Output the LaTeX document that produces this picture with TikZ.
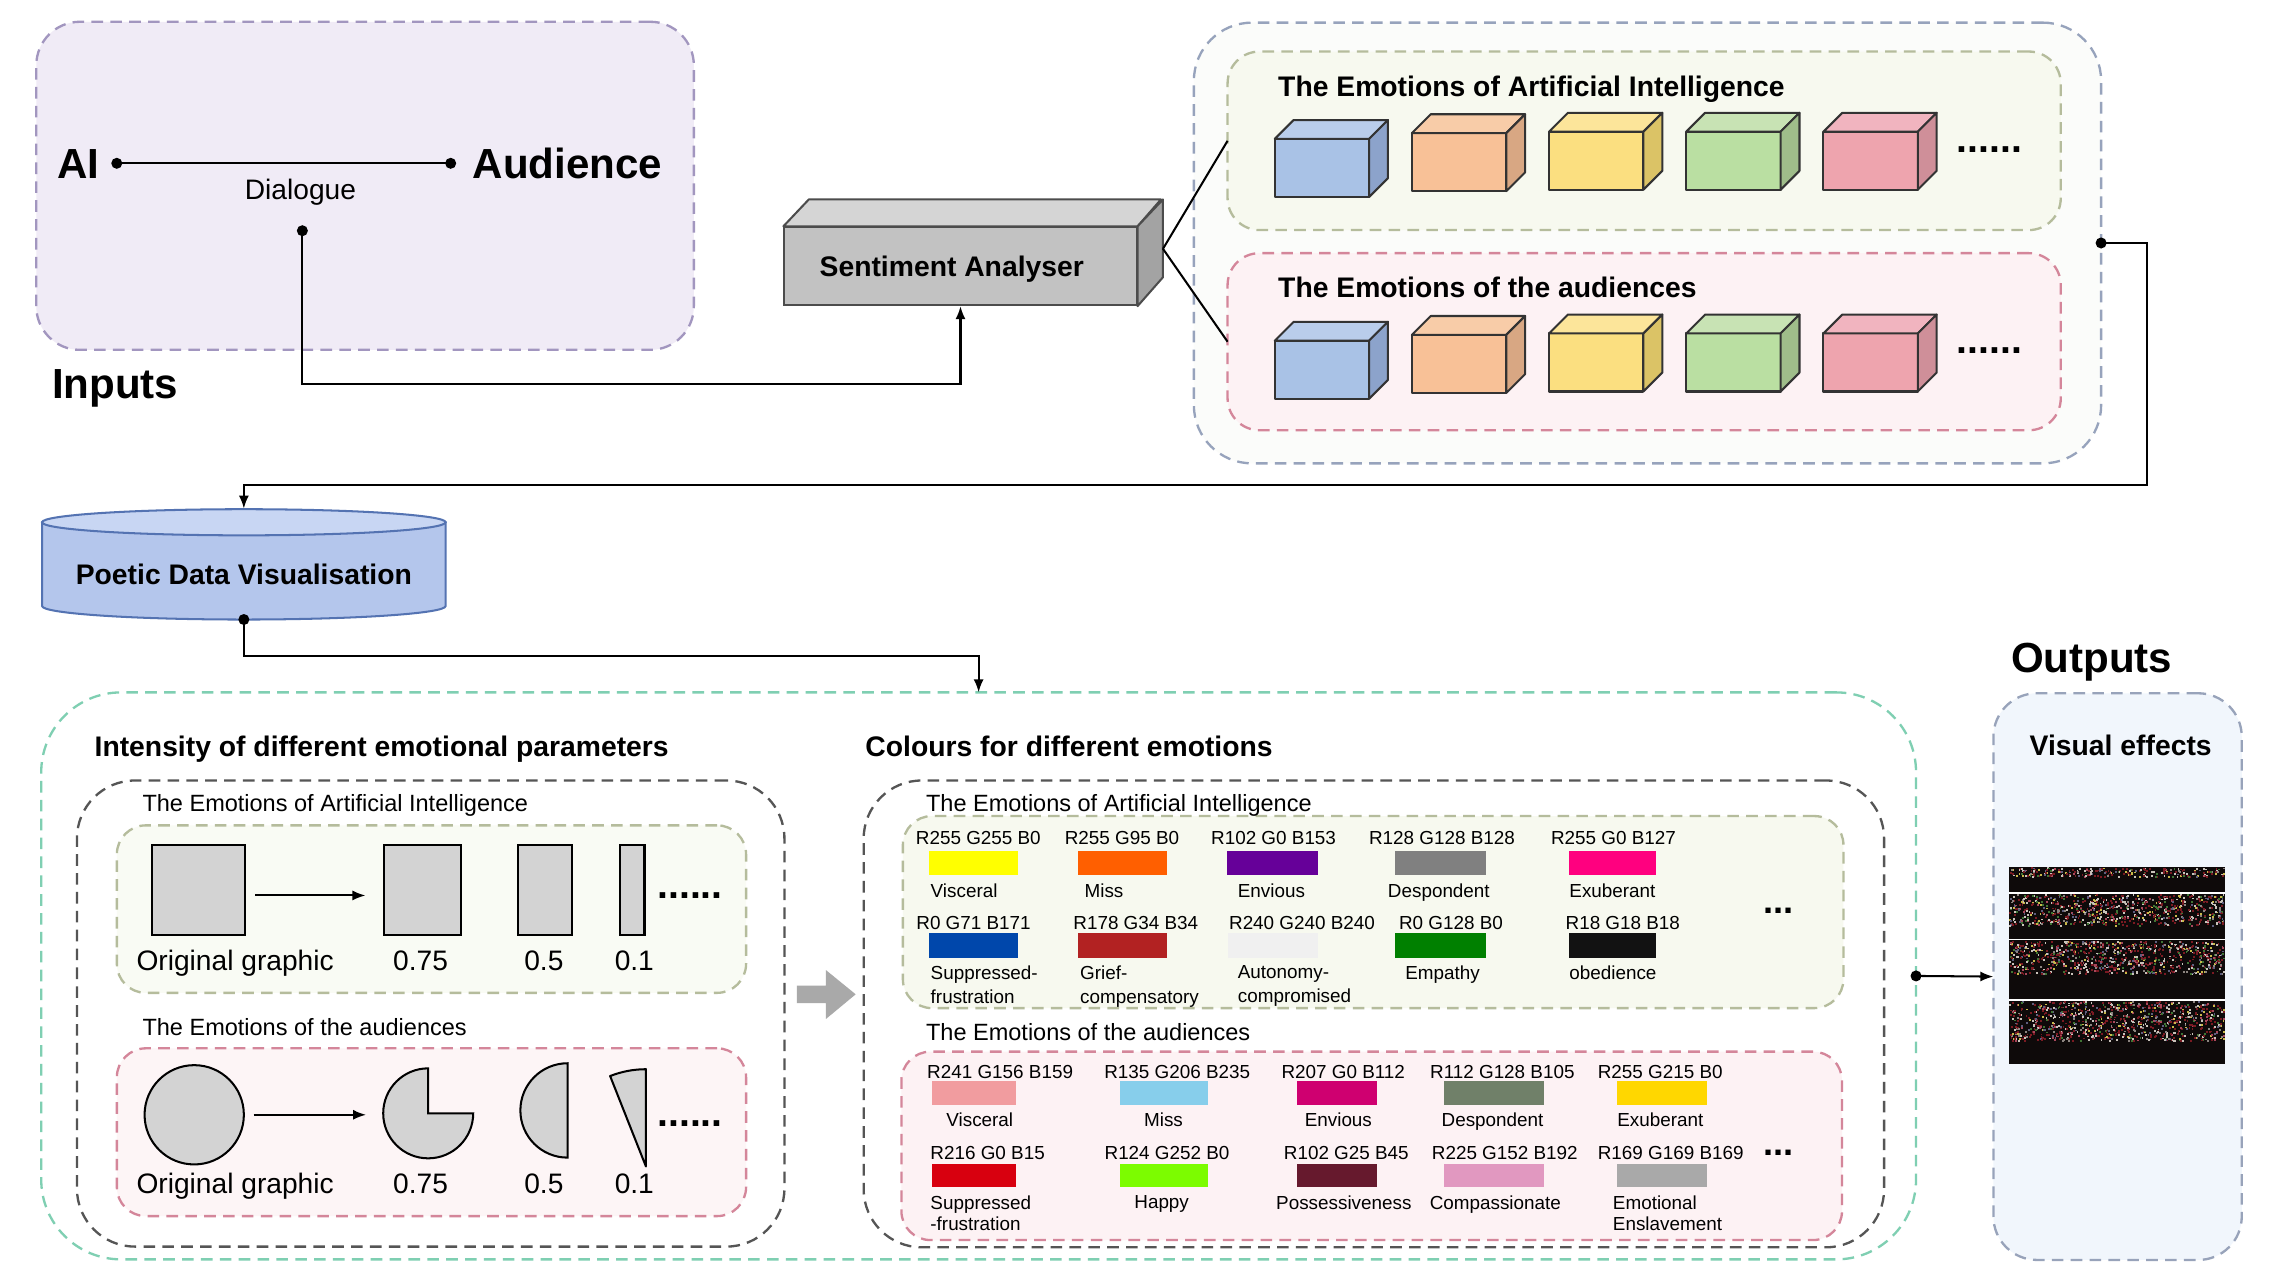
\documentclass[tikz,border=0pt]{standalone}
\usepackage{fontspec}
\setmainfont{Liberation Sans}
\usetikzlibrary{arrows.meta}
\definecolor{inbg}{HTML}{F0EBF6}
\definecolor{inln}{HTML}{A296BF}
\definecolor{emln}{HTML}{97A3BC}
\definecolor{embg}{HTML}{FBFCFA}
\definecolor{aibg}{HTML}{F7F9EF}
\definecolor{ailn}{HTML}{B5BC9C}
\definecolor{aubg}{HTML}{FDF2F4}
\definecolor{auln}{HTML}{D4869A}
\definecolor{grln}{HTML}{7FCFB2}
\definecolor{dkln}{HTML}{555555}
\definecolor{oubg}{HTML}{F1F6FC}
\definecolor{ouln}{HTML}{98A3BA}
\definecolor{cyfill}{HTML}{B4C6EC}
\definecolor{cytop}{HTML}{C8D6F3}
\definecolor{cyln}{HTML}{5473B2}
\definecolor{safr}{HTML}{C2C2C2}
\definecolor{satp}{HTML}{D5D5D5}
\definecolor{sasd}{HTML}{A3A3A3}
\definecolor{shp}{HTML}{D3D3D3}
\definecolor{arrg}{HTML}{A9A9A9}
\definecolor{blf}{HTML}{A9C2E6}\definecolor{blt}{HTML}{B9CDEB}\definecolor{bls}{HTML}{8CA3CB}
\definecolor{orf}{HTML}{F8C197}\definecolor{ort}{HTML}{F8CCA8}\definecolor{ors}{HTML}{D8A783}
\definecolor{yef}{HTML}{FBDF80}\definecolor{yet}{HTML}{FCE59A}\definecolor{yes}{HTML}{DBC366}
\definecolor{grf}{HTML}{BADFA2}\definecolor{grt}{HTML}{C8E3B4}\definecolor{grs}{HTML}{9FBD8A}
\definecolor{pif}{HTML}{EEA4AE}\definecolor{pit}{HTML}{F1B4BF}\definecolor{pis}{HTML}{CF8F99}
\definecolor{noir}{HTML}{0E0A0A}
\definecolor{fxa}{HTML}{7A1A22}\definecolor{fxb}{HTML}{C9C2BA}\definecolor{fxc}{HTML}{3F7434}
\definecolor{fxd}{HTML}{C8B84A}\definecolor{fxe}{HTML}{A8485C}\definecolor{fxf}{HTML}{5E5E7E}
\definecolor{fxg}{HTML}{8C8480}
\pgfmathdeclarerandomlist{fx}{{fxa}{fxb}{fxc}{fxd}{fxe}{fxf}{fxa}{fxb}{fxa}{fxg}{fxa}}
\begin{document}
\begin{tikzpicture}[x=1pt,y=-1pt,
	grp/.style={draw,line width=1.6pt,dash pattern=on 8pt off 5pt,rounded corners=#1,inner sep=0pt,outer sep=0pt},
	grp/.default=30pt,
	sz/.style 2 args={minimum width=#1pt,minimum height=#2pt},
	big/.style={font=\fontsize{29}{34}\selectfont\bfseries,inner sep=0pt,text height=20.9pt,text depth=0pt},
	ttl/.style={font=\fontsize{19.5}{23}\selectfont\bfseries,inner sep=0pt,text height=14pt,text depth=0pt},
	lbl/.style={font=\fontsize{19.4}{23}\selectfont,inner sep=0pt,text height=14pt,text depth=0pt},
	sub/.style={font=\fontsize{16.2}{19}\selectfont,inner sep=0pt,text height=11.6pt,text depth=0pt},
	tiny/.style={font=\fontsize{13}{15}\selectfont,inner sep=0pt,text height=9.3pt,text depth=0pt},
	nm/.style={font=\fontsize{13}{#1}\selectfont,align=left,anchor=north west,inner sep=0pt},
	dots/.style={font=\fontsize{27}{30}\selectfont\bfseries,inner sep=0pt},
	wire/.style={line width=1.4pt},
	arr/.style={wire,-{Latex[length=9pt,width=7pt]}},
	dotarr/.style={wire,{Circle[length=7.5pt]}-{Latex[length=9pt,width=7pt]}},
	cube/.style={draw=black!80,line width=1.4pt,line join=round},
	gsh/.style={draw,fill=shp,line width=1.4pt,inner sep=0pt}]
	\fill[white] (0,0) rectangle (1568,881.8);
	\useasboundingbox (0,0) rectangle (1568,881.8);
	% inputs
	\node[grp,fill=inbg,draw=inln,sz={453}{226}] (inbox) at (251.5,128) {};
	\node[big] (ai) at (54,112.5) {AI};
	\node[big] (aud) at (391,112.5) {Audience};
	\draw[wire,{Circle[length=7.5pt]}-{Circle[length=7.5pt]}] ([xshift=8pt]ai.east) -- ([xshift=-11.3pt]aud.west);
	\node[lbl] (dlg) at (207,130.5) {Dialogue};
	\coordinate (dlgdot) at (208.3,155.2);
	\node[big] (inp) at (79.4,264.4) {Inputs};
	% sentiment analyser
	\node[draw=black!70,fill=safr,line width=1.4pt,sz={242.6}{53.6},ttl] (sa) at (661.7,183.4) {Sentiment Analyser\hspace*{12pt}};
	\draw[draw=black!70,fill=satp,line width=1.4pt,line join=round] (sa.north west) -- ++(17.5,-18.5) -- ++(242.6,0) -- (sa.north east) -- cycle;
	\draw[draw=black!70,fill=sasd,line width=1.4pt,line join=round] (sa.north east) -- ++(17.5,-18.5) -- ++(0,53.6) -- (sa.south east) -- cycle;
	\coordinate (sar) at ([xshift=17.5pt,yshift=12pt]sa.east);
	% emotions
	\node[grp=40pt,fill=embg,draw=emln,sz={625}{303.6}] (emo) at (1135,167.4) {};
	\node[grp=22pt,fill=aibg,draw=ailn,sz={574}{123}] (aibox) at (1132.7,97) {};
	\node[grp=22pt,fill=aubg,draw=auln,sz={574}{122}] (aubox) at (1132.7,235.4) {};
	\node[ttl,anchor=west] (aittl) at (880.4,59.2) {The Emotions of Artificial Intelligence};
	\node[ttl,anchor=west] (auttl) at (880.4,198) {The Emotions of the audiences};
	\foreach \ry in {90.7,229.7}{
		\foreach \cf/\ct/\cs/\dy [count=\i from 0] in {blf/blt/bls/5,orf/ort/ors/1,yef/yet/yes/0,grf/grt/grs/0,pif/pit/pis/0}{
			\pgfmathsetmacro{\cx}{878.2+94.5*\i}
			\pgfmathsetmacro{\cy}{\ry+\dy}
			\draw[cube,fill=\cf] (\cx,\cy) rectangle ++(65,40);
			\draw[cube,fill=\ct] (\cx,\cy) -- ++(13,-13) -- ++(65,0) -- ++(-13,13) -- cycle;
			\draw[cube,fill=\cs] ({\cx+65},\cy) -- ++(13,-13) -- ++(0,40) -- ++(-13,13) -- cycle;
		}
	}
	\node[dots] (aidots) at (1370.4,103.3) {......};
	\node[dots] (audots) at (1370.4,241.8) {......};
	% poetic data visualisation
	\draw[draw=cyln,fill=cyfill,line width=1.4pt] (29,359.8) -- (29,417.5) arc[start angle=180,end angle=360,x radius=139pt,y radius=9.3pt] -- (307,359.8) -- cycle;
	\draw[draw=cyln,fill=cytop,line width=1.4pt] (168,359.8) ellipse[x radius=139pt,y radius=9pt];
	\node[sz={278}{76}] (pdv) at (168,388.6) {};
	\node[ttl] (pdvt) at (168,395.8) {Poetic Data Visualisation};
	% panels
	\node[grp=55pt,draw=grln,fill=white,sz={1291.6}{390.6}] (big) at (674.2,672.3) {};
	\node[grp=40pt,draw=dkln,sz={487.4}{321.1}] (lbox) at (296.7,698.25) {};
	\node[grp=20pt,draw=ailn,fill=aibg!70!white,sz={433.5}{115.4}] (li) at (297.25,626.3) {};
	\node[grp=20pt,draw=auln,fill=aubg!80!white,sz={433.5}{115.6}] (lp) at (297.25,780) {};
	\node[grp=40pt,draw=dkln,sz={703}{321.6}] (rbox) at (946.5,698.5) {};
	\node[grp=20pt,draw=ailn,fill=aibg,sz={648}{132.3}] (ri) at (946,628.35) {};
	\node[grp=20pt,draw=auln,fill=aubg,sz={648}{129.8}] (rp) at (945,789.4) {};
	\node[grp=30pt,draw=ouln,fill=oubg,sz={171.1}{390.4}] (outbox) at (1458.85,672.8) {};
	\node[ttl,anchor=west] (intt) at (65,514) {Intensity of different emotional parameters};
	\node[ttl,anchor=west] (colt) at (596,514) {Colours for different emotions};
	\node[sub,anchor=west] (lsa) at (98,553.4) {The Emotions of Artificial Intelligence};
	\node[sub,anchor=west] (lsb) at (98,707.8) {The Emotions of the audiences};
	\node[sub,anchor=west] (rsa) at (637.8,553.4) {The Emotions of Artificial Intelligence};
	\node[sub,anchor=west] (rsb) at (637.8,710.8) {The Emotions of the audiences};
	% intensity shapes
	\node[gsh,sz={64}{62.2}] (osq) at (137,612.9) {};
	\node[gsh,sz={53}{62.2}] (r75) at (291,612.9) {};
	\node[gsh,sz={36.8}{62.2}] (r50) at (375.4,612.9) {};
	\node[gsh,sz={17}{62.2}] (r10) at (435.5,612.9) {};
	\draw[arr] ([xshift=6pt,yshift=-4pt]osq.east) -- ([xshift=-12pt,yshift=-4pt]r75.west);
	\node[gsh,circle,minimum size=68.4pt] (ocirc) at (133.8,768) {};
	\draw[gsh] (295,767) -- ++(0,-31) arc[start angle=90,end angle=360,radius=31pt] -- cycle;
	\draw[gsh] (391,765) -- ++(0,-32.5) arc[start angle=90,end angle=270,radius=32.5pt] -- cycle;
	\draw[gsh,line join=round] (445,803.6) -- ++(0,-67) arc[start angle=90,end angle=111.6,radius=67pt] -- cycle;
	\draw[arr] ([xshift=6pt]ocirc.east) -- ++(77.5,0);
	\foreach \yy [count=\j] in {661.9,815.4}{
		\foreach \lx/\t [count=\k] in {162/Original graphic,289.7/0.75,374.7/0.5,437/0.1}
			\node[lbl] (iv\j-\k) at (\lx,\yy) {\t};
	}
	\node[dots] (ldots1) at (475.4,617.2) {......};
	\node[dots] (ldots2) at (475.4,774.2) {......};
	\fill[arrg] (549,679) -- (569,679) -- (569,668.3) -- (589.5,685) -- (569,702) -- (569,691) -- (549,691) -- cycle;
	% colour swatches
	\foreach \lx/\sx/\sw/\rv/\gv/\bv/\nx/\nm [count=\i] in {674/640/61/255/255/0/641/Visceral,773/742.7/61/255/95/0/747/Miss,877.4/845/63/102/0/153/852.6/Envious,993.4/960.7/63/128/128/128/956/Despondent,1111.6/1081/60/255/0/127/1081/Exuberant}{
		\node[tiny] (ra\i) at (\lx,577) {R\rv\ G\gv\ B\bv};
		\definecolor{swc}{RGB}{\rv,\gv,\bv}
		\fill[swc] (\sx,586) rectangle ++(\sw,17);
		\node[nm=16.3] (na\i) at (\nx,609) {\nm};
	}
	\foreach \lx/\sx/\sw/\rv/\gv/\bv/\nx/\nm [count=\i] in {670.7/640/61/0/71/171/641/{Suppressed-\\frustration},782.5/742.7/61/178/34/34/744/{Grief-\\compensatory},897/846/62/240/240/240/852.6/{Autonomy-\\compromised},999.6/960.7/63/0/128/0/968/Empathy,1118/1081/60/18/18/18/1081/obedience}{
		\node[tiny] (rb\i) at (\lx,636) {R\rv\ G\gv\ B\bv};
		\definecolor{swc}{RGB}{\rv,\gv,\bv}
		\fill[swc] (\sx,643) rectangle ++(\sw,17);
		\node[nm=16.3] (nb\i) at (\nx,665.3) {\nm};
	}
	\foreach \lx/\sx/\sw/\rv/\gv/\bv/\nx/\nm [count=\i] in {689/642/58/241/156/159/651.8/Visceral,811/771.3/61/135/206/235/788/Miss,925.4/893.5/55/207/0/112/898.7/Envious,1035/994.5/69.5/112/128/105/993/Despondent,1143.8/1114/62/255/215/0/1114/Exuberant}{
		\node[tiny] (rc\i) at (\lx,738) {R\rv\ G\gv\ B\bv};
		\definecolor{swc}{RGB}{\rv,\gv,\bv}
		\fill[swc] (\sx,744.5) rectangle ++(\sw,16.8);
		\node[nm=14.5] (nc\i) at (\nx,766.5) {\nm};
	}
	\foreach \lx/\sx/\sw/\rv/\gv/\bv/\nx/\nm [count=\i] in {680.4/642/58/216/0/15/640.8/{Suppressed\\-frustration},804/771.3/61/124/252/0/781.3/Happy,927.5/893.5/55/102/25/45/879/Possessiveness,1036.7/994.5/69.5/225/152/192/984.8/Compassionate,1151/1114/62/169/169/169/1111/{Emotional\\Enslavement}}{
		\node[tiny] (rd\i) at (\lx,794) {R\rv\ G\gv\ B\bv};
		\definecolor{swc}{RGB}{\rv,\gv,\bv}
		\fill[swc] (\sx,802) rectangle ++(\sw,16);
		\node[nm=14.5] (nd\i) at (\nx,823.3) {\nm};
	}
	\node[dots,font=\fontsize{25}{28}\selectfont\bfseries] (cdots1) at (1225.5,627.4) {...};
	\node[dots,font=\fontsize{25}{28}\selectfont\bfseries] (cdots2) at (1225.5,794) {...};
	% outputs
	\node[big] (outt) at (1441,453) {Outputs};
	\node[ttl] (vis) at (1461,513.3) {Visual effects};
	\fill[noir] (1384,597) rectangle (1533,733);
	\draw[white,line width=1.2pt] (1384,615) -- (1533,615) (1384,647.3) -- (1533,647.3) (1384,688.8) -- (1533,688.8);
	\pgfmathsetseed{7}
	\foreach \ya/\yb/\n in {597.5/605/240,615.8/638.5/720,648/672/760,689.6/718/880}{
		\foreach \k in {1,...,\n}{
			\pgfmathrandomitem{\dc}{fx}
			\pgfmathsetmacro{\px}{1384+147.7*rnd}
			\pgfmathsetmacro{\py}{\ya+(\yb-\ya-1.3)*rnd}
			\fill[\dc] (\px,\py) rectangle ++(1.3,1.3);
		}
	}
	% connectors
	\draw[dotarr] (dlgdot) -- ++(0,109.2) -| (sa.south);
	\draw[wire] (sar) -- (aibox.west) (sar) -- (aubox.west);
	\draw[dotarr] ([xshift=-3.75pt]emo.east) -- ++(35.1,0) -- ++(0,166.5) -| (pdv.north);
	\draw[dotarr] ([yshift=3.75pt]pdv.south) -- ++(0,29.2) -| (big.north);
	\draw[dotarr] ([xshift=-3.75pt]big.east) -- (outbox.west);
\end{tikzpicture}
\end{document}
